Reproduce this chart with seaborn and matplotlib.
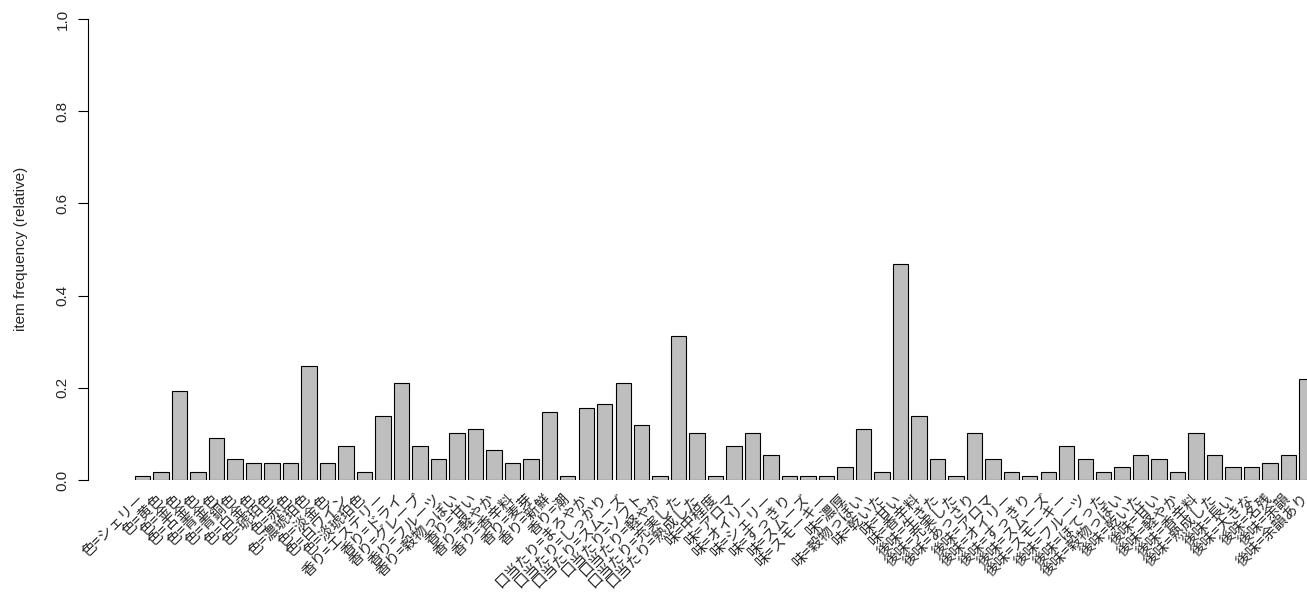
import matplotlib
matplotlib.use("Agg")
import matplotlib.pyplot as plt
import seaborn as sns
import pandas as pd

# item labels (attribute=value) and relative item frequencies
items = [
    "色=シェリー", "色=黄色", "色=金色", "色=古金色", "色=青金色", "色=青銅色",
    "色=白金色", "色=琥珀色", "色=赤色", "色=濃琥珀色", "色=淡金色", "色=白ワイン",
    "色=淡琥珀色",
    "香り=エステリー", "香り=ドライ", "香り=グレープ", "香り=フルーツ", "香り=穀物っぽい",
    "香り=甘い", "香り=軽やか", "香り=香辛料", "香り=麦芽", "香り=新鮮", "香り=潮",
    "口当たり=まろやか", "口当たり=しっかり", "口当たり=スムーズ", "口当たり=ソフト",
    "口当たり=軽やか", "口当たり=充実した", "口当たり=熟成した",
    "味=中程度", "味=アロマ", "味=オイリー", "味=シェリー", "味=すっきり", "味=スムーズ",
    "味=スモーキー", "味=濃厚", "味=穀物っぽい", "味=乾いた", "味=甘い", "味=香辛料",
    "後味=生きた", "後味=充実した", "後味=あっさり", "後味=アロマ", "後味=オイリー",
    "後味=すっきり", "後味=スムーズ", "後味=スモーキー", "後味=フルーツ", "後味=ほてった",
    "後味=穀物っぽい", "後味=乾いた", "後味=甘い", "後味=軽やか", "後味=香辛料",
    "後味=熟成した", "後味=長い", "後味=大きな", "後味=名残", "後味=余韻", "後味=余韻あり",
]
freq = [
    0.009, 0.018, 0.193, 0.018, 0.092, 0.046,
    0.037, 0.037, 0.037, 0.248, 0.037, 0.073,
    0.018,
    0.138, 0.211, 0.073, 0.046, 0.101,
    0.110, 0.064, 0.037, 0.046, 0.147, 0.009,
    0.156, 0.165, 0.211, 0.119,
    0.009, 0.312, 0.101,
    0.009, 0.073, 0.101, 0.055, 0.009, 0.009,
    0.009, 0.028, 0.110, 0.018, 0.468, 0.138,
    0.046, 0.009, 0.101, 0.046, 0.018,
    0.009, 0.018, 0.073, 0.046, 0.018,
    0.028, 0.055, 0.046, 0.018, 0.101,
    0.055, 0.028, 0.028, 0.037, 0.055, 0.220,
]
yticks = [0.0, 0.2, 0.4, 0.6, 0.8, 1.0]

df = pd.DataFrame({"item": items, "freq": freq})

sns.set_style("white")
plt.rcParams["font.family"] = ["Liberation Sans", "Noto Sans CJK JP"]

fig = plt.figure(figsize=(13.07, 6.07), dpi=100)
ax = fig.add_axes([88 / 1307, 127 / 607, 1 - 88 / 1307, 461 / 607])

sns.barplot(data=df, x="item", y="freq", order=items, color="#BEBEBE",
            saturation=1, edgecolor="black", linewidth=0.8, width=1 / 1.2, ax=ax)

ax.set_xlim(-2.96, 62.65)
ax.set_ylim(0, 1)
ax.set_xlabel("")
ax.set_ylabel("")

for s in ["top", "right", "bottom"]:
    ax.spines[s].set_visible(False)
ax.spines["left"].set_color("black")
ax.spines["left"].set_linewidth(0.8)

ax.set_yticks(yticks)
ax.set_yticklabels([f"{v:.1f}" for v in yticks], rotation=90, va="center", fontsize=11)
ax.tick_params(axis="y", length=7.2, width=0.8, pad=6, color="black", left=True)

ax.set_xticks(range(len(items)))
ax.set_xticklabels(items, rotation=45, ha="right", va="center", rotation_mode="anchor",
                   fontsize=10.5, family=["Noto Sans CJK JP", "DejaVu Sans"])
ax.tick_params(axis="x", length=0, pad=12)

fig.text(21 / 1307, 1 - 249 / 607, "item frequency (relative)", rotation=90,
         ha="center", va="center", fontsize=11)

fig.savefig("out.png", dpi=100)
